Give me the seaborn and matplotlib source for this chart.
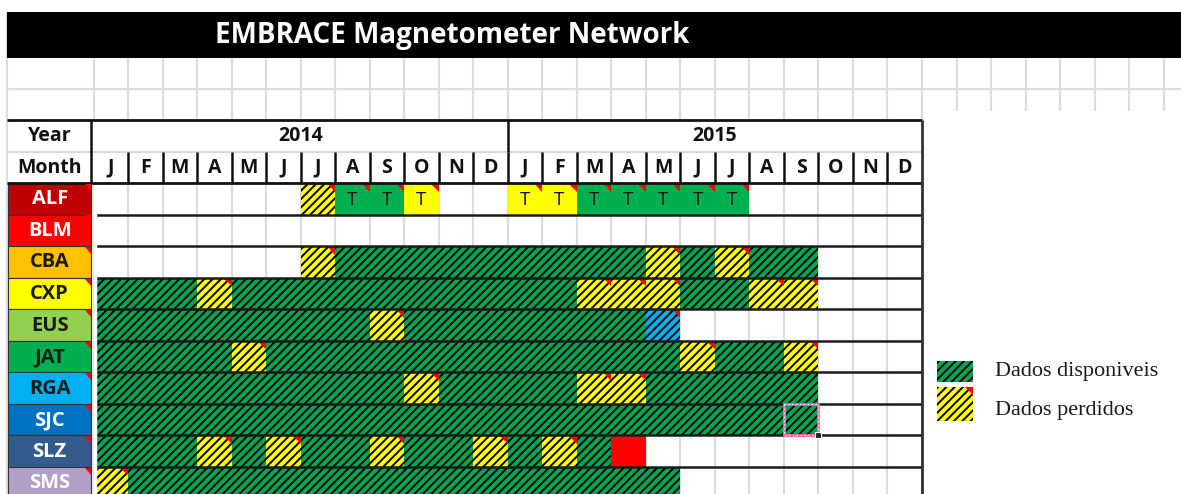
import numpy as np
import pandas as pd
import matplotlib
matplotlib.use("Agg")
import matplotlib.pyplot as plt
from matplotlib.colors import ListedColormap
from matplotlib.patches import Rectangle, Polygon
import seaborn as sns

# Estacoes da rede
stations = ["ALF", "BLM", "CBA", "CXP", "EUS", "JAT", "RGA", "SJC", "SLZ", "SMS"]
station_colors = ["#C00000", "#FF0000", "#FFC000", "#FFFF00", "#92D050",
                  "#00B050", "#00B0F0", "#0070C0", "#345B8C", "#B1A0C7"]
station_text = ["white", "white", "#1a1a1a", "#1a1a1a", "#1a1a1a",
                "#1a1a1a", "#1a1a1a", "white", "white", "white"]

years = ["2014", "2015"]
month_labels = ["J", "F", "M", "A", "M", "J", "J", "A", "S", "O", "N", "D",
                "J", "F", "M", "A", "M", "J", "J", "A", "S", "O", "N", "D"]

# Estado mensal por trimestre (2014 Q1..Q4 | 2015 Q1..Q4)
# . vazio | g disponivel | y perdido | G / Y celula com "T" | b azul | r vermelho
status_alf = "... ... yGG Y.. | YYG GGG G.. ..."
status_blm = "... ... ... ... | ... ... ... ..."
status_cba = "... ... ygg ggg | ggg gyg ygg ..."
status_cxp = "ggg ygg ggg ggg | ggy yyg gyy ..."
status_eus = "ggg ggg ggy ggg | ggg gb. ... ..."
status_jat = "ggg gyg ggg ggg | ggg ggy ggy ..."
status_rga = "ggg ggg ggg ygg | ggy ygg ggg ..."
status_sjc = "ggg ggg ggg ggg | ggg ggg ggg ..."
status_slz = "ggg ygy ggy ggy | gyg r.. ... ..."
status_sms = "ygg ggg ggg ggg | ggg gg. ... ..."

status = [s.replace(" ", "").replace("|", "") for s in
          [status_alf, status_blm, status_cba, status_cxp, status_eus,
           status_jat, status_rga, status_sjc, status_slz, status_sms]]

codes = ["g", "y", "G", "Y", "b", "r"]
code_colors = ["#00A651", "#FFFF00", "#00B050", "#FFFF00", "#00B0F0", "#FF0000"]
hatched = {"g", "y", "b"}
flagged = {"y", "G", "Y", "b"}

# Tabela para o heatmap
grid = pd.DataFrame([[codes.index(c) if c != "." else np.nan for c in s] for s in status],
                    index=stations, columns=range(24))
mask = grid.isna()

# Estilo
sns.set_theme(style="white")
plt.rcParams['font.family'] = ['Open Sans', 'DejaVu Sans']
plt.rcParams['hatch.linewidth'] = 1.4

fig = plt.figure(figsize=(11.81, 4.94), dpi=100)
ax = fig.add_axes([0, 0, 1, 1])

# Linhas de grade da planilha (fundo)
grey = "#dcdcdc"
ax.vlines(range(25), 0, 10, color=grey, lw=1.6, zorder=0.5)
ax.vlines(range(25), -3.96, -2.0, color=grey, lw=1.6, zorder=0.5)
ax.vlines(range(25, 32), -3.96, -2.27, color=grey, lw=1.6, zorder=0.5)
ax.hlines(-2.98, -2.51, 31.6, color=grey, lw=1.6, zorder=0.5)
ax.vlines(-2.51, -5.42, 10, color=grey, lw=1.6, zorder=0.5)

# Celulas coloridas
sns.heatmap(grid, mask=mask, cmap=ListedColormap(code_colors), vmin=-0.5, vmax=5.5,
            cbar=False, ax=ax, xticklabels=False, yticklabels=False, linewidths=0)

cells = [(i, j, c) for i, s in enumerate(status) for j, c in enumerate(s)]
hx = [j for i, j, c in cells if c in hatched]
hy = [i for i, j, c in cells if c in hatched]
ax.bar(hx, 1, width=1, bottom=hy, align='edge', facecolor='none',
       edgecolor='black', linewidth=0, hatch='////', zorder=2)

tw, th = 0.25, 0.27
for i, j, c in cells:
    if c in flagged:
        ax.add_patch(Polygon([(j + 1 - tw, i), (j + 1, i), (j + 1, i + th)],
                             closed=True, facecolor="#FF0000", edgecolor='none', zorder=3))
    if c in ("G", "Y"):
        ax.text(j + 0.5, i + 0.55, "T", ha='center', va='center', fontsize=13.5,
                fontweight='medium', color="#111111", zorder=4)

# Linhas da tabela
ax.hlines(range(1, 10), 0.05, 24, color="#1a1a1a", lw=1.8, zorder=4)
ax.vlines(0.03, 0, 10, color="white", lw=2.5, zorder=4)
ax.hlines([-2, 0], -2.51, 24, color="#111111", lw=2, zorder=4)
ax.hlines(-0.98, -2.51, 24, color="#d0d0d0", lw=1.2, zorder=3)
ax.vlines(range(1, 24), -0.98, 0, color="#111111", lw=1.8, zorder=4)
ax.vlines(12, -2, -0.98, color="#111111", lw=1.8, zorder=4)
ax.vlines(-0.06, -2, 0, color="#111111", lw=1.8, zorder=4)
ax.vlines(24, -2, 10, color="#333333", lw=2, zorder=4)

# Cabecalho
hdr = dict(ha='center', va='center', fontsize=14, fontweight='bold', color="#111111", zorder=5)
ax.text(-1.27, -1.5, "Year", **hdr)
ax.text(-1.27, -0.48, "Month", **hdr)
for k, yr in enumerate(years):
    ax.text(6 + 12 * k, -1.5, yr, **hdr)
for j, m in enumerate(month_labels):
    ax.text(j + 0.5, -0.48, m, **hdr)

# Coluna das estacoes
for i, (name, fc, tc) in enumerate(zip(stations, station_colors, station_text)):
    ax.add_patch(Rectangle((-2.48, i), 2.42, 1, facecolor=fc, edgecolor="#333333",
                           lw=0.8, zorder=3))
    ax.add_patch(Polygon([(-0.06 - 0.2, i + 0.03), (-0.06, i + 0.03), (-0.06, i + 0.25)],
                         closed=True, facecolor="#FF0000", edgecolor='none', zorder=4))
    ax.text(-1.27, i + 0.52, name, ha='center', va='center', fontsize=14.5,
            fontweight='bold', color=tc, zorder=5)

# Titulo
ax.add_patch(Rectangle((-2.51, -5.42), 34.2, 1.46, facecolor="black", edgecolor='none', zorder=3))
ax.text(10.38, -4.69, "EMBRACE Magnetometer Network", ha='center', va='center',
        fontsize=20, fontweight='bold', color="white", zorder=5)

# Celula selecionada (SJC set/2015): apenas o contorno
sel_x, sel_y = 20, 7
box_x = [sel_x, sel_x + 1, sel_x + 1, sel_x, sel_x]
box_y = [sel_y, sel_y, sel_y + 1, sel_y + 1, sel_y]
ax.plot(box_x, box_y, color="#FF69B4", lw=2.0, zorder=6)
ax.plot(box_x, box_y, color="white", lw=0.8, linestyle=(0, (1, 2.5)), zorder=6)
ax.plot([sel_x + 1], [sel_y + 1], marker='s', markersize=5, color="#222222",
        markeredgecolor='white', markeredgewidth=0.8, zorder=7)

# Legenda
ax.add_patch(Rectangle((24.43, 5.64), 1.05, 0.67, facecolor="#00A651", edgecolor='black',
                       lw=0, hatch='////', zorder=3))
ax.add_patch(Rectangle((24.43, 6.47), 1.05, 1.07, facecolor="#FFFF00", edgecolor='black',
                       lw=0, hatch='////', zorder=3))
ax.add_patch(Polygon([(25.48 - 0.22, 6.47), (25.48, 6.47), (25.48, 6.72)], closed=True,
                     facecolor="#FF0000", edgecolor='none', zorder=4))
leg = dict(ha='left', va='center', fontsize=16, color="#1a1a1a",
           family=['Liberation Serif', 'DejaVu Serif'])
ax.text(26.12, 5.99, "Dados disponiveis", **leg)
ax.text(26.12, 7.20, "Dados perdidos", **leg)

ax.set_xlim(-93.5 / 34.52, (1181 - 93.5) / 34.52)
ax.set_ylim((494 - 183) / 31.54, -183 / 31.54)
ax.axis('off')

fig.savefig("out.png", dpi=100)
plt.close(fig)
